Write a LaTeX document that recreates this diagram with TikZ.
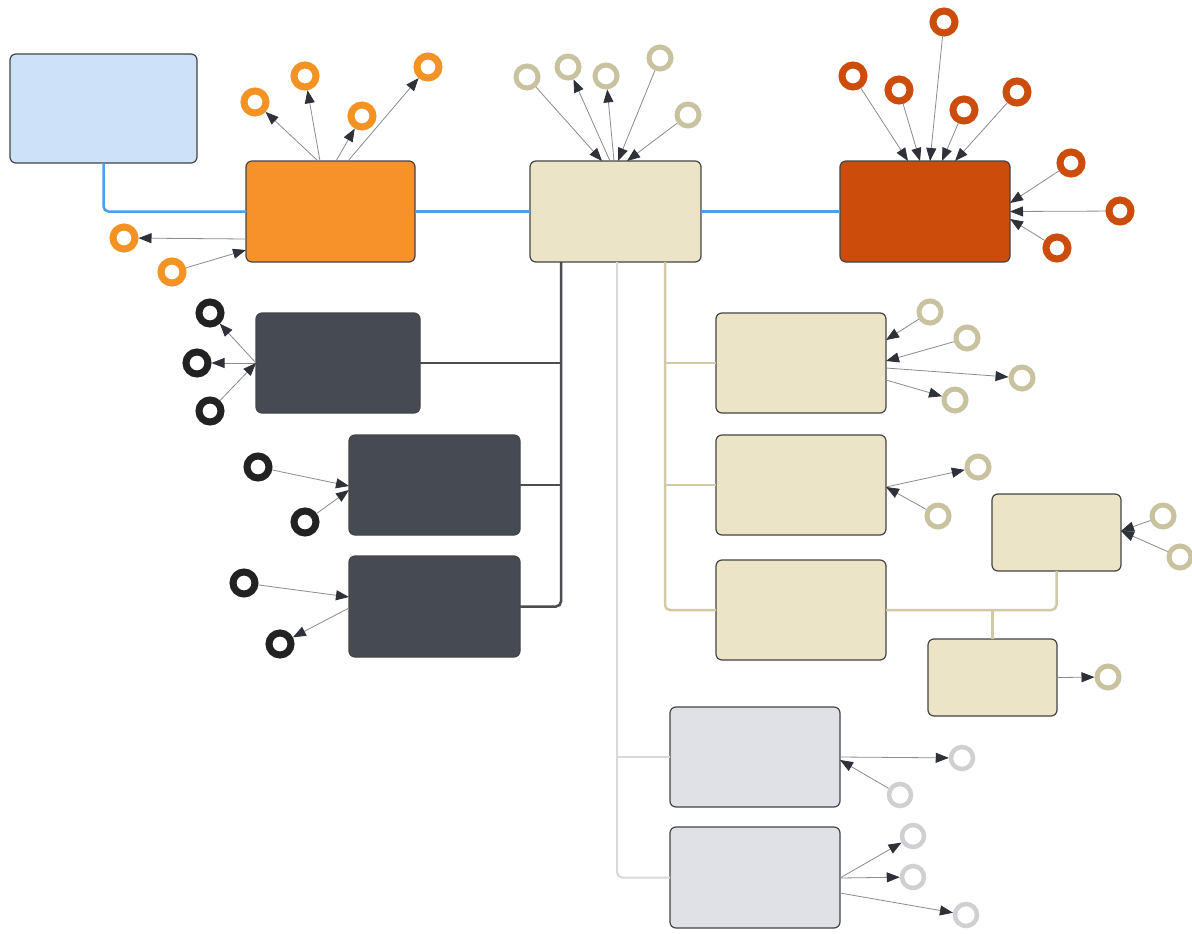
\documentclass[tikz,border=0pt]{standalone}
\usetikzlibrary{arrows.meta}

\definecolor{bluefill}{HTML}{CDE1F8}
\definecolor{orangefill}{HTML}{F7922B}
\definecolor{rustfill}{HTML}{CC4C0B}
\definecolor{sandfill}{HTML}{ECE4C7}
\definecolor{slatefill}{HTML}{464A52}
\definecolor{mistfill}{HTML}{DFE1E6}
\definecolor{boxedge}{HTML}{444444}
\definecolor{linkblue}{HTML}{4B9FF3}
\definecolor{linkslate}{HTML}{4A4C52}
\definecolor{linksand}{HTML}{D2CAA6}
\definecolor{linkmist}{HTML}{D9D9DB}
\definecolor{ringorange}{HTML}{F39324}
\definecolor{ringrust}{HTML}{CC4C0B}
\definecolor{ringsand}{HTML}{C9C29F}
\definecolor{ringslate}{HTML}{222222}
\definecolor{ringmist}{HTML}{D0D0D2}
\definecolor{arrowline}{HTML}{8C8C8C}
\definecolor{arrowtip}{HTML}{2E3238}

\begin{document}
\begin{tikzpicture}[x=1pt,y=-1pt,
  card/.style={draw=boxedge, line width=1.2pt, rounded corners=6pt,
    anchor=north west, inner sep=0pt, outer sep=0pt},
  ring/.style={circle, draw=#1, fill=white, inner sep=0pt, minimum size=22pt, line width=7pt},
  thinring/.style={circle, draw=#1, fill=white, inner sep=0pt, minimum size=22pt, line width=5pt},
  link/.style={line width=2.5pt, rounded corners=5pt},
  arr/.style={draw=arrowline, line width=0.8pt,
    -{Triangle[length=13pt,width=10pt,color=arrowtip]}}]

\useasboundingbox[fill=white] (0,0) rectangle (1192,934);

% ---- boxes ----
\node[card, fill=bluefill,  minimum width=187pt, minimum height=109pt] (B)  at (10,54) {};
\node[card, fill=orangefill,minimum width=169pt, minimum height=101pt] (A)  at (246,161) {};
\node[card, fill=sandfill,  minimum width=171pt, minimum height=101pt] (C)  at (530,161) {};
\node[card, fill=rustfill,  minimum width=170pt, minimum height=101pt] (D)  at (840,161) {};
\node[card, fill=slatefill, minimum width=164pt, minimum height=100pt] (K1) at (256,313) {};
\node[card, fill=slatefill, minimum width=171pt, minimum height=100pt] (K2) at (349,435) {};
\node[card, fill=slatefill, minimum width=171pt, minimum height=101pt] (K3) at (349,556) {};
\node[card, fill=sandfill,  minimum width=170pt, minimum height=100pt] (T1) at (716,313) {};
\node[card, fill=sandfill,  minimum width=170pt, minimum height=100pt] (T2) at (716,435) {};
\node[card, fill=sandfill,  minimum width=170pt, minimum height=100pt] (T3) at (716,560) {};
\node[card, fill=sandfill,  minimum width=129pt, minimum height=77pt]  (T4) at (992,494) {};
\node[card, fill=sandfill,  minimum width=129pt, minimum height=77pt]  (T5) at (928,639) {};
\node[card, fill=mistfill,  minimum width=170pt, minimum height=100pt] (G1) at (670,707) {};
\node[card, fill=mistfill,  minimum width=170pt, minimum height=101pt] (G2) at (670,827) {};

% ---- trunk lines ----
\coordinate (dk) at ([xshift=31pt]C.south west);
\coordinate (gk) at ([xshift=87pt]C.south west);
\coordinate (tk) at ([xshift=135pt]C.south west);

\draw[link, draw=linkblue] (B.south) |- (A.west);
\draw[link, draw=linkblue] (A.east) -- (C.west);
\draw[link, draw=linkblue] (C.east) -- (D.west);

\draw[link, draw=linkslate] (dk) |- (K3.east);
\draw[link, draw=linkslate] (K1.east) -- (K1.east -| dk);
\draw[link, draw=linkslate] (K2.east) -- (K2.east -| dk);

\draw[link, draw=linkmist, line width=2pt] (gk) |- (G2.west);
\draw[link, draw=linkmist, line width=2pt] (G1.west) -- (G1.west -| gk);

\draw[link, draw=linksand] (tk) |- (T3.west);
\draw[link, draw=linksand] (T1.west) -- (T1.west -| tk);
\draw[link, draw=linksand] (T2.west) -- (T2.west -| tk);
\draw[link, draw=linksand] (T3.east) -| (T4.south);
\draw[link, draw=linksand] (T5.north) -- (T5.north |- T3.east);

% ---- rings ----
\foreach \n/\x/\y in {o1/124/238, o2/172/272, o3/255/102, o4/305/76, o5/362/116, o6/428/67}
  \node[ring=ringorange] (\n) at (\x,\y) {};
\foreach \n/\x/\y in {d1/853/76, d2/899/90, d3/944/22, d4/964/110, d5/1017/92,
                      d6/1071/163, d7/1120/211, d8/1057/248}
  \node[ring=ringrust] (\n) at (\x,\y) {};
\foreach \n/\x/\y in {k1/210/313, k2/197/363, k3/210/411, k4/258/467, k5/305/522,
                      k6/244/583, k7/280/644}
  \node[ring=ringslate] (\n) at (\x,\y) {};
\foreach \n/\x/\y in {c1/527/77, c2/568/67, c3/606/76, c4/660/58, c5/688/115,
                      t1/930/312, t2/967/338, t3/1022/378, t4/955/400,
                      t5/978/467, t6/938/516, t7/1163/516, t8/1180/557, t9/1108/677}
  \node[thinring=ringsand] (\n) at (\x,\y) {};
\foreach \n/\x/\y in {g1/962/758, g2/900/795, g3/913/836, g4/913/877, g5/966/915}
  \node[thinring=ringmist, line width=4.5pt] (\n) at (\x,\y) {};

% ---- arrows: orange box ----
\draw[arr] ([yshift=-78pt]A.north west) -- (o1);
\draw[arr] (o2) -- ([yshift=-89pt]A.north west);
\draw[arr] ([xshift=72pt]A.north west) -- (o3);
\draw[arr] ([xshift=74pt]A.north west) -- (o4);
\draw[arr] ([xshift=90pt]A.north west) -- (o5);
\draw[arr] ([xshift=102pt]A.north west) -- (o6);

% ---- arrows: central box ----
\draw[arr] (c1) -- ([xshift=72pt]C.north west);
\draw[arr] ([xshift=80pt]C.north west) -- (c2);
\draw[arr] ([xshift=84pt]C.north west) -- (c3);
\draw[arr] (c4) -- ([xshift=88pt]C.north west);
\draw[arr] (c5) -- ([xshift=97pt]C.north west);

% ---- arrows: rust box ----
\draw[arr] (d1) -- ([xshift=68pt]D.north west);
\draw[arr] (d2) -- ([xshift=80pt]D.north west);
\draw[arr] (d3) -- ([xshift=90pt]D.north west);
\draw[arr] (d4) -- ([xshift=102pt]D.north west);
\draw[arr] (d5) -- ([xshift=115pt]D.north west);
\draw[arr] (d6) -- ([yshift=-42pt]D.north east);
\draw[arr] (d7) -- (D.east);
\draw[arr] (d8) -- ([yshift=-58pt]D.north east);

% ---- arrows: slate boxes ----
\draw[arr] (K1.west) -- (k1);
\draw[arr] (K1.west) -- (k2);
\draw[arr] (k3) -- (K1.west);
\draw[arr] (k4) -- ([yshift=-51pt]K2.north west);
\draw[arr] (k5) -- ([yshift=-55pt]K2.north west);
\draw[arr] (k6) -- ([yshift=-41pt]K3.north west);
\draw[arr] ([yshift=-52pt]K3.north west) -- (k7);

% ---- arrows: sand boxes ----
\draw[arr] (t1) -- ([yshift=-27pt]T1.north east);
\draw[arr] (t2) -- ([yshift=-48pt]T1.north east);
\draw[arr] ([yshift=-55pt]T1.north east) -- (t3);
\draw[arr] ([yshift=-67pt]T1.north east) -- (t4);
\draw[arr] ([yshift=-52pt]T2.north east) -- (t5);
\draw[arr] (t6) -- ([yshift=-52pt]T2.north east);
\draw[arr] (t7) -- ([yshift=-37pt]T4.north east);
\draw[arr] (t8) -- ([yshift=-37pt]T4.north east);
\draw[arr] (T5.east) -- (t9);

% ---- arrows: mist boxes ----
\draw[arr] ([yshift=-50pt]G1.north east) -- (g1);
\draw[arr] (g2) -- ([yshift=-53pt]G1.north east);
\draw[arr] ([yshift=-51pt]G2.north east) -- (g3);
\draw[arr] ([yshift=-51pt]G2.north east) -- (g4);
\draw[arr] ([yshift=-66pt]G2.north east) -- (g5);

\end{tikzpicture}
\end{document}
